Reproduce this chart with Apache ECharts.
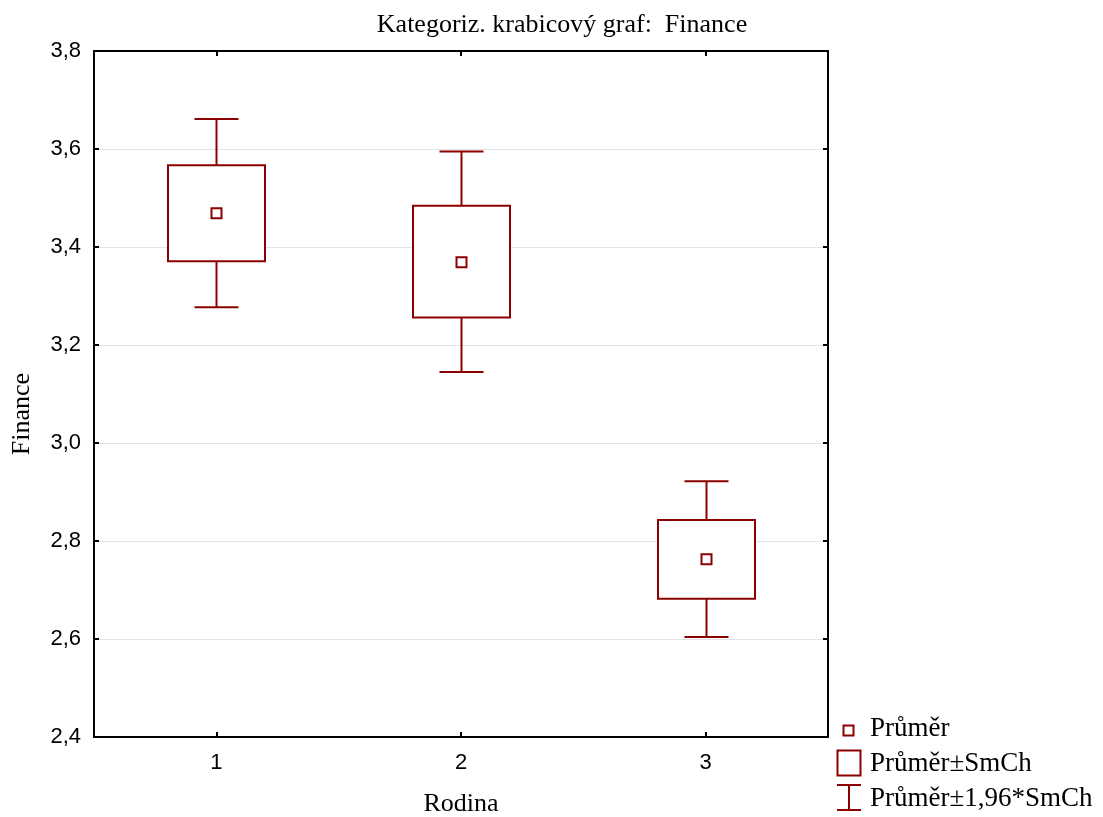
<!DOCTYPE html>
<html>
<head>
<meta charset="utf-8">
<script src="https://cdn.jsdelivr.net/npm/echarts@6/dist/echarts.min.js"></script>
<style>html,body{margin:0;padding:0;background:#fff}#c{width:1103px;height:817px}</style>
</head>
<body>
<div id="c"></div>
<script>
const categories = ['1', '2', '3'];
const means = [3.469, 3.369, 2.763];
const seLow = [3.371, 3.256, 2.682];
const seHigh = [3.567, 3.484, 2.843];
const ciLow = [3.277, 3.145, 2.604];
const ciHigh = [3.661, 3.595, 2.922];
const yTicks = [2.4, 2.6, 2.8, 3.0, 3.2, 3.4, 3.6, 3.8];

const RED = '#8B0000';
const serif = '"Liberation Serif", "DejaVu Serif", serif';
const sans = '"Liberation Sans", Arial, sans-serif';

const data = categories.map((c, i) => [i, means[i], seLow[i], seHigh[i], ciLow[i], ciHigh[i]]);

function renderItem(params, api) {
  const i = api.value(0);
  const pMean = api.coord([i, api.value(1)]);
  const pSeLo = api.coord([i, api.value(2)]);
  const pSeHi = api.coord([i, api.value(3)]);
  const pCiLo = api.coord([i, api.value(4)]);
  const pCiHi = api.coord([i, api.value(5)]);
  const x = Math.round(pMean[0]) + 0.5;
  const boxW = 97, capW = 44, m = 10;
  const st = {stroke: RED, lineWidth: 2, fill: null};
  return {
    type: 'group',
    children: [
      {type: 'line', shape: {x1: x, y1: pCiHi[1], x2: x, y2: pSeHi[1]}, style: st},
      {type: 'line', shape: {x1: x, y1: pSeLo[1], x2: x, y2: pCiLo[1]}, style: st},
      {type: 'line', shape: {x1: x - capW / 2, y1: pCiHi[1], x2: x + capW / 2, y2: pCiHi[1]}, style: st},
      {type: 'line', shape: {x1: x - capW / 2, y1: pCiLo[1], x2: x + capW / 2, y2: pCiLo[1]}, style: st},
      {type: 'rect', shape: {x: x - boxW / 2, y: pSeHi[1], width: boxW, height: pSeLo[1] - pSeHi[1]},
        style: {stroke: RED, lineWidth: 2, fill: '#fff'}},
      {type: 'rect', shape: {x: x - m / 2, y: pMean[1] - m / 2, width: m, height: m},
        style: {stroke: RED, lineWidth: 2, fill: '#fff'}}
    ]
  };
}

const fmt = v => Number(v).toFixed(1).replace('.', ',');

const axisLineStyle = {color: '#000', width: 2};

const option = {
  animation: false,
  backgroundColor: '#fff',
  title: {
    text: 'Kategoriz. krabicový graf:  Finance',
    left: 557, top: 7, textAlign: 'center',
    textStyle: {fontFamily: serif, fontSize: 26, fontWeight: 'normal', color: '#000'}
  },
  grid: {left: 94, right: 275, top: 51, bottom: 80, containLabel: false, outerBoundsMode: 'none'},
  xAxis: [
    {
      type: 'category', data: categories, position: 'bottom',
      name: 'Rodina', nameLocation: 'middle', nameGap: 67,
      nameTextStyle: {fontFamily: serif, fontSize: 26, color: '#000', verticalAlign: 'middle'},
      axisLine: {show: true, lineStyle: axisLineStyle},
      axisTick: {show: true, inside: true, alignWithLabel: true, length: 5, lineStyle: {color: '#000', width: 2}},
      axisLabel: {fontFamily: sans, fontSize: 22, color: '#000', margin: 15},
      splitLine: {show: false}
    },
    {
      type: 'category', data: categories, position: 'top',
      axisLine: {show: true, lineStyle: axisLineStyle},
      axisTick: {show: true, inside: true, alignWithLabel: true, length: 5, lineStyle: {color: '#000', width: 2}},
      axisLabel: {show: false},
      splitLine: {show: false}
    }
  ],
  yAxis: [
    {
      type: 'value', min: yTicks[0], max: yTicks[yTicks.length - 1], interval: 0.2, position: 'left',
      axisLine: {show: true, lineStyle: axisLineStyle},
      axisTick: {show: true, inside: true, length: 5, lineStyle: {color: '#000', width: 2}},
      axisLabel: {fontFamily: sans, fontSize: 22, color: '#000', margin: 13, formatter: fmt},
      splitLine: {show: true, lineStyle: {color: '#e4e4e4', width: 1}}
    },
    {
      type: 'value', min: yTicks[0], max: yTicks[yTicks.length - 1], interval: 0.2, position: 'right',
      axisLine: {show: true, lineStyle: axisLineStyle},
      axisTick: {show: true, inside: true, length: 5, lineStyle: {color: '#000', width: 2}},
      axisLabel: {show: false},
      splitLine: {show: false}
    }
  ],
  series: [{
    type: 'custom', name: 'Finance', xAxisIndex: 0, yAxisIndex: 0,
    renderItem: renderItem,
    encode: {x: 0, y: [1, 2, 3, 4, 5]},
    data: data,
    clip: false
  }],
  graphic: [
    {type: 'text', x: 22, y: 414, rotation: Math.PI / 2, style: {text: 'Finance', font: '26px ' + serif, fill: '#000', textAlign: 'center', textVerticalAlign: 'middle'}},
    {type: 'rect', shape: {x: 843.5, y: 725.5, width: 10, height: 10}, style: {stroke: RED, lineWidth: 2, fill: '#fff'}},
    {type: 'text', x: 870, y: 729, style: {text: 'Průměr', font: '27px ' + serif, fill: '#000', textVerticalAlign: 'middle'}},
    {type: 'rect', shape: {x: 837.5, y: 750.5, width: 23, height: 25}, style: {stroke: RED, lineWidth: 2, fill: '#fff'}},
    {type: 'text', x: 870, y: 764, style: {text: 'Průměr±SmCh', font: '27px ' + serif, fill: '#000', textVerticalAlign: 'middle'}},
    {type: 'line', shape: {x1: 837, y1: 785, x2: 861, y2: 785}, style: {stroke: RED, lineWidth: 2}},
    {type: 'line', shape: {x1: 849, y1: 785, x2: 849, y2: 810}, style: {stroke: RED, lineWidth: 2}},
    {type: 'line', shape: {x1: 837, y1: 810, x2: 861, y2: 810}, style: {stroke: RED, lineWidth: 2}},
    {type: 'text', x: 870, y: 799, style: {text: 'Průměr±1,96*SmCh', font: '27px ' + serif, fill: '#000', textVerticalAlign: 'middle'}}
  ]
};

const chart = echarts.init(document.getElementById('c'), null, {renderer: 'canvas'});
chart.setOption(option);
</script>
</body>
</html>
